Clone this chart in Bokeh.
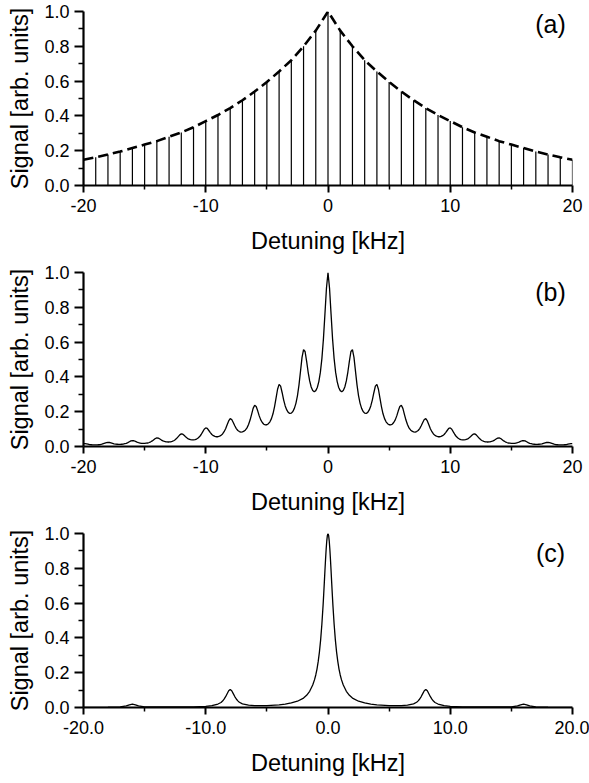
from bokeh.plotting import figure
from bokeh.layouts import column
from bokeh.models import Range1d, FixedTicker, Label, NumeralTickFormatter
from bokeh.embed import file_html
from bokeh.resources import INLINE

FONT = "Liberation Sans"

# ---------------- data ----------------
# (a) comb of lines (one every 1 kHz) and its envelope
detuning_a = list(range(-20, 21))
signal_a = [0.148, 0.162, 0.178, 0.195, 0.215, 0.235, 0.255, 0.28, 0.305, 0.335,
            0.37, 0.405, 0.445, 0.49, 0.54, 0.595, 0.655, 0.72, 0.80, 0.89,
            1.00,
            0.89, 0.80, 0.72, 0.655, 0.595, 0.54, 0.49, 0.445, 0.405, 0.37,
            0.335, 0.305, 0.28, 0.255, 0.235, 0.215, 0.195, 0.178, 0.162, 0.148]

# (b) spectrum read every 0.125 kHz from -20 to 20
detuning_b = [i * 0.125 for i in range(-160, 161)]
signal_b = [
    0.017,
    0.016, 0.015, 0.013, 0.011, 0.010, 0.009, 0.009, 0.009, 0.009, 0.010, 0.011, 0.013, 0.016, 0.019, 0.022, 0.024,
    0.023, 0.021, 0.018, 0.015, 0.014, 0.013, 0.012, 0.012, 0.013, 0.014, 0.016, 0.018, 0.022, 0.027, 0.032, 0.034,
    0.033, 0.029, 0.025, 0.022, 0.020, 0.018, 0.018, 0.018, 0.019, 0.020, 0.023, 0.027, 0.032, 0.039, 0.046, 0.050,
    0.048, 0.043, 0.037, 0.032, 0.029, 0.027, 0.026, 0.026, 0.027, 0.029, 0.033, 0.039, 0.047, 0.057, 0.067, 0.073,
    0.071, 0.063, 0.054, 0.047, 0.042, 0.039, 0.038, 0.038, 0.040, 0.043, 0.049, 0.057, 0.069, 0.084, 0.099, 0.107,
    0.104, 0.092, 0.080, 0.069, 0.062, 0.058, 0.056, 0.056, 0.059, 0.064, 0.072, 0.085, 0.102, 0.125, 0.147, 0.160,
    0.155, 0.138, 0.119, 0.103, 0.092, 0.086, 0.083, 0.084, 0.088, 0.095, 0.107, 0.126, 0.152, 0.185, 0.219, 0.237,
    0.230, 0.205, 0.176, 0.153, 0.138, 0.128, 0.124, 0.125, 0.131, 0.142, 0.160, 0.188, 0.228, 0.278, 0.329, 0.357,
    0.347, 0.309, 0.267, 0.233, 0.210, 0.196, 0.190, 0.192, 0.201, 0.219, 0.248, 0.291, 0.353, 0.432, 0.512, 0.557,
    0.546, 0.491, 0.428, 0.377, 0.342, 0.322, 0.315, 0.321, 0.339, 0.373, 0.426, 0.505, 0.617, 0.762, 0.911,
    1.000, 0.911, 0.762, 0.617, 0.505, 0.426, 0.373, 0.339, 0.321, 0.315, 0.322, 0.342, 0.377, 0.428, 0.491, 0.546,
    0.557, 0.512, 0.432, 0.353, 0.291, 0.248, 0.219, 0.201, 0.192, 0.190, 0.196, 0.210, 0.233, 0.267, 0.309, 0.347,
    0.357, 0.329, 0.278, 0.228, 0.188, 0.160, 0.142, 0.131, 0.125, 0.124, 0.128, 0.138, 0.153, 0.176, 0.205, 0.230,
    0.237, 0.219, 0.185, 0.152, 0.126, 0.107, 0.095, 0.088, 0.084, 0.083, 0.086, 0.092, 0.103, 0.119, 0.138, 0.155,
    0.160, 0.147, 0.125, 0.102, 0.085, 0.072, 0.064, 0.059, 0.056, 0.056, 0.058, 0.062, 0.069, 0.080, 0.092, 0.104,
    0.107, 0.099, 0.084, 0.069, 0.057, 0.049, 0.043, 0.040, 0.038, 0.038, 0.039, 0.042, 0.047, 0.054, 0.063, 0.071,
    0.073, 0.067, 0.057, 0.047, 0.039, 0.033, 0.029, 0.027, 0.026, 0.026, 0.027, 0.029, 0.032, 0.037, 0.043, 0.048,
    0.050, 0.046, 0.039, 0.032, 0.027, 0.023, 0.020, 0.019, 0.018, 0.018, 0.018, 0.020, 0.022, 0.025, 0.029, 0.033,
    0.034, 0.032, 0.027, 0.022, 0.018, 0.016, 0.014, 0.013, 0.012, 0.012, 0.013, 0.014, 0.015, 0.018, 0.021, 0.023,
    0.024, 0.022, 0.019, 0.016, 0.013, 0.011, 0.010, 0.009, 0.009, 0.009, 0.009, 0.010, 0.011, 0.013, 0.015, 0.016,
    0.017]

# (c) spectrum
detuning_c = [-20, -19, -18, -17, -16.5, -16.25, -16, -15.75, -15.5, -15,
              -14, -13, -12, -11, -10, -9.5, -9, -8.75, -8.625, -8.5,
              -8.375, -8.25, -8.125, -8, -7.875, -7.75, -7.625, -7.5, -7.375, -7.25,
              -7, -6.5, -6, -5, -4, -3.5, -3, -2.5, -2, -1.75,
              -1.5, -1.25, -1.1, -1, -0.9, -0.8, -0.7, -0.6, -0.5, -0.4,
              -0.35, -0.3, -0.25, -0.2, -0.15, -0.1, -0.05,
              0,
              0.05, 0.1, 0.15, 0.2, 0.25, 0.3, 0.35,
              0.4, 0.5, 0.6, 0.7, 0.8, 0.9, 1, 1.1, 1.25, 1.5,
              1.75, 2, 2.5, 3, 3.5, 4, 5, 6, 6.5, 7,
              7.25, 7.375, 7.5, 7.625, 7.75, 7.875, 8, 8.125, 8.25, 8.375,
              8.5, 8.625, 8.75, 9, 9.5, 10, 11, 12, 13, 14,
              15, 15.5, 15.75, 16, 16.25, 16.5, 17, 18, 19, 20]
signal_c = [0.001, 0.001, 0.002, 0.004, 0.009, 0.015, 0.019, 0.015, 0.009, 0.004,
            0.003, 0.003, 0.003, 0.004, 0.007, 0.011, 0.020, 0.029, 0.037, 0.048,
            0.062, 0.079, 0.096, 0.104, 0.096, 0.080, 0.063, 0.049, 0.038, 0.030,
            0.021, 0.014, 0.011, 0.011, 0.015, 0.019, 0.026, 0.036, 0.054, 0.070,
            0.093, 0.129, 0.160, 0.187, 0.221, 0.265, 0.320, 0.390, 0.480, 0.590,
            0.653, 0.719, 0.787, 0.852, 0.911, 0.958, 0.989,
            1.000,
            0.989, 0.958, 0.911, 0.852, 0.787, 0.719, 0.653,
            0.590, 0.480, 0.390, 0.320, 0.265, 0.221, 0.187, 0.160, 0.129, 0.093,
            0.070, 0.054, 0.036, 0.026, 0.019, 0.015, 0.011, 0.011, 0.014, 0.021,
            0.030, 0.038, 0.049, 0.063, 0.080, 0.096, 0.104, 0.096, 0.079, 0.062,
            0.048, 0.037, 0.029, 0.020, 0.011, 0.007, 0.004, 0.003, 0.003, 0.003,
            0.004, 0.009, 0.015, 0.019, 0.015, 0.009, 0.004, 0.002, 0.001, 0.001]

# ticks
x_major = [-20, -10, 0, 10, 20]
x_minor = [-15, -5, 5, 15]
x_labels_ab = ["-20", "-10", "0", "10", "20"]
x_labels_c = ["-20.0", "-10.0", "0.0", "10.0", "20.0"]
y_major = [0.0, 0.2, 0.4, 0.6, 0.8, 1.0]
y_minor = [0.1, 0.3, 0.5, 0.7, 0.9]
y_labels = ["0.0", "0.2", "0.4", "0.6", "0.8", "1.0"]

panel_tags = ["(a)", "(b)", "(c)"]
x_title = "Detuning [kHz]"
y_title = "Signal [arb. units]"


def make_panel(xlabels, xfmt, tag, tag_y):
    p = figure(width=589, height=261,
               x_range=Range1d(-20, 20), y_range=Range1d(0, 1.0),
               output_backend="svg", toolbar_location=None,
               min_border_left=83, min_border_right=17,
               min_border_top=11, min_border_bottom=76)
    p.outline_line_color = None
    p.grid.visible = False
    p.background_fill_color = "white"
    p.border_fill_color = "white"

    xa = p.xaxis[0]
    xa.ticker = FixedTicker(ticks=x_major, minor_ticks=x_minor)
    xa.formatter = NumeralTickFormatter(format=xfmt)
    xa.major_label_overrides = dict(zip(x_major, xlabels))
    xa.major_tick_out = 7
    xa.minor_tick_out = 4
    xa.major_label_standoff = 6
    xa.axis_label = x_title
    xa.axis_label_standoff = 13

    ya = p.yaxis[0]
    ya.ticker = FixedTicker(ticks=y_major, minor_ticks=y_minor)
    ya.formatter = NumeralTickFormatter(format="0.0")
    ya.major_label_overrides = dict(zip(y_major, y_labels))
    ya.major_tick_out = 9
    ya.minor_tick_out = 5
    ya.major_label_standoff = 5
    ya.axis_label = y_title
    ya.axis_label_standoff = 8

    for ax in (xa, ya):
        ax.axis_line_width = 2.2
        ax.axis_line_color = "black"
        ax.major_tick_line_width = 2
        ax.minor_tick_line_width = 1.5
        ax.major_tick_line_color = "black"
        ax.minor_tick_line_color = "black"
        ax.major_tick_in = 0
        ax.minor_tick_in = 0
        ax.major_label_text_font = FONT
        ax.major_label_text_font_size = "18px"
        ax.major_label_text_color = "black"
        ax.axis_label_text_font = FONT
        ax.axis_label_text_font_size = "23.5px"
        ax.axis_label_text_font_style = "normal"
        ax.axis_label_text_color = "black"

    p.add_layout(Label(x=18.2, y=tag_y, text=tag, text_align="center",
                       text_baseline="middle", text_font=FONT,
                       text_font_size="25px", text_color="black"))
    return p


pa = make_panel(x_labels_ab, "0", panel_tags[0], 0.93)
pa.segment(x0=detuning_a, y0=[0] * len(detuning_a), x1=detuning_a, y1=signal_a,
           line_color="black", line_width=1.2)
pa.line(detuning_a, signal_a, line_color="black", line_width=2.6, line_dash="10 5")

pb = make_panel(x_labels_ab, "0", panel_tags[1], 0.89)
pb.line(detuning_b, signal_b, line_color="black", line_width=1.3)

pc = make_panel(x_labels_c, "0.0", panel_tags[2], 0.89)
pc.line(detuning_c, signal_c, line_color="black", line_width=1.3)

layout = column(pa, pb, pc, spacing=0)

with open("out.html", "w") as f:
    f.write(file_html(layout, INLINE))
